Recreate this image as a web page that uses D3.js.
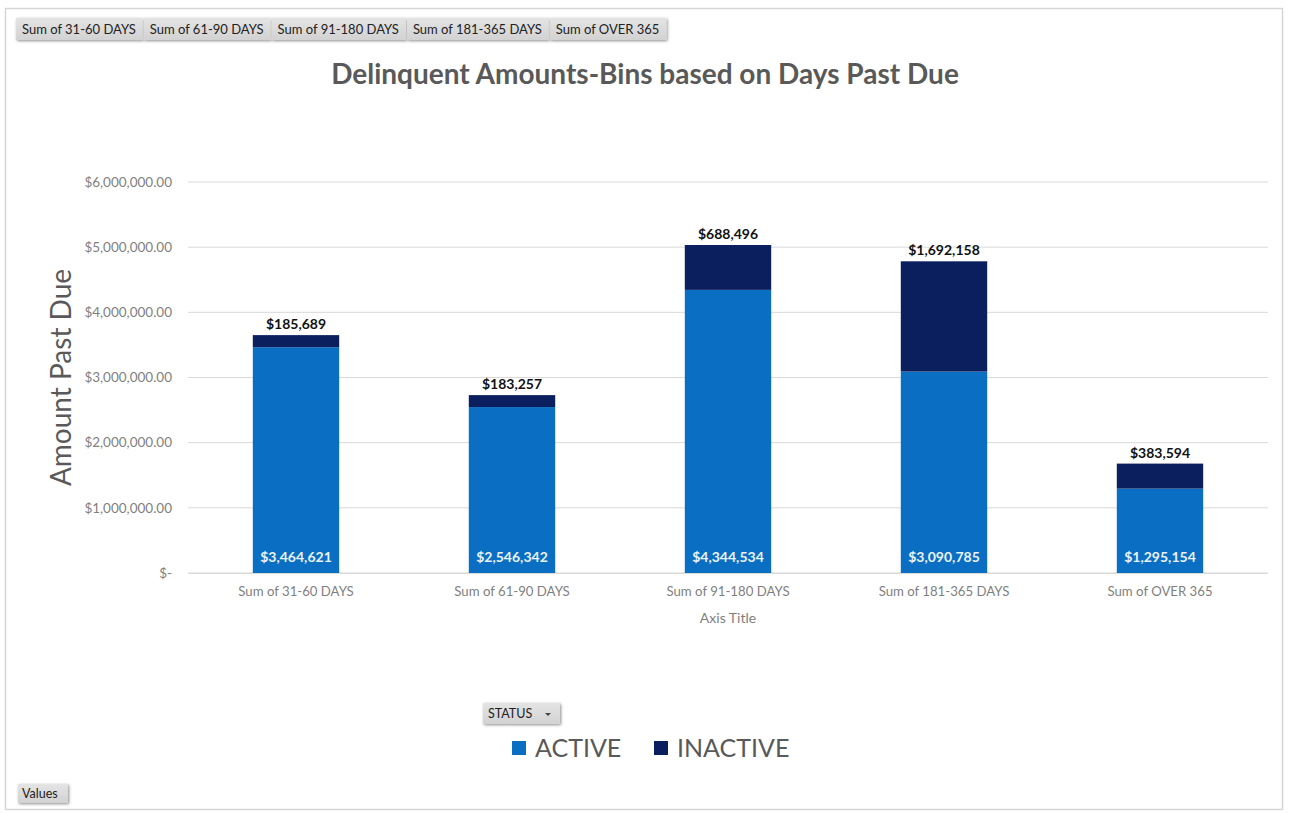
<!DOCTYPE html>
<html>
<head>
<meta charset="utf-8">
<script src="https://cdn.jsdelivr.net/npm/d3@7"></script>
<style>
  html, body { margin: 0; padding: 0; background: #ffffff; }
  svg { display: block; font-family: Lato, "Open Sans", sans-serif; }
</style>
</head>
<body>
<svg id="chart" width="1289" height="813"></svg>
<script>
// Pivot chart data: amounts past due per aging bin, split by account status
const categories = ["Sum of 31-60 DAYS", "Sum of 61-90 DAYS", "Sum of 91-180 DAYS", "Sum of 181-365 DAYS", "Sum of OVER 365"];
const activeValues = [3464621, 2546342, 4344534, 3090785, 1295154];
const inactiveValues = [185689, 183257, 688496, 1692158, 383594];
const yTickValues = [0, 1000000, 2000000, 3000000, 4000000, 5000000, 6000000];
const statusNames = ["ACTIVE", "INACTIVE"];
const fieldButtons = ["Sum of 31-60 DAYS", "Sum of 61-90 DAYS", "Sum of 91-180 DAYS", "Sum of 181-365 DAYS", "Sum of OVER 365"];

const colors = { ACTIVE: "#0a6fc2", INACTIVE: "#0b1f5e" };

const svg = d3.select("#chart");
const defs = svg.append("defs");

// soft shadow for the pivot field buttons
const sh = defs.append("filter").attr("id", "btnShadow").attr("x", "-10%").attr("y", "-40%").attr("width", "120%").attr("height", "180%");
sh.append("feGaussianBlur").attr("in", "SourceAlpha").attr("stdDeviation", 1.5).attr("result", "b");
sh.append("feOffset").attr("in", "b").attr("dx", 1).attr("dy", 1).attr("result", "o");
sh.append("feComponentTransfer").attr("in", "o").attr("result", "s")
  .append("feFuncA").attr("type", "linear").attr("slope", 0.45);
const m = sh.append("feMerge");
m.append("feMergeNode").attr("in", "s");
m.append("feMergeNode").attr("in", "SourceGraphic");

const grad = defs.append("linearGradient").attr("id", "btnFill").attr("x1", 0).attr("y1", 0).attr("x2", 0).attr("y2", 1);
grad.append("stop").attr("offset", "0%").attr("stop-color", "#e4e4e4");
grad.append("stop").attr("offset", "100%").attr("stop-color", "#d2d2d2");

// chart frame
svg.append("rect")
  .attr("x", 5.5).attr("y", 8.5).attr("width", 1277).attr("height", 801)
  .attr("fill", "#ffffff").attr("stroke", "#d6d6d6").attr("stroke-width", 1.5);

// field buttons across the top
const btnG = svg.append("g").attr("filter", "url(#btnShadow)");
const btnTextG = svg.append("g");
let bx = 16;
fieldButtons.forEach((label) => {
  const t = btnTextG.append("text")
    .attr("x", bx + 6).attr("y", 34)
    .attr("font-size", 13).attr("fill", "#222")
    .text(label);
  const w = t.node().getComputedTextLength() + 13;
  btnG.append("rect").attr("x", bx).attr("y", 18).attr("width", w).attr("height", 22)
    .attr("fill", "url(#btnFill)");
  bx += w + 1;
});

// title
svg.append("text")
  .attr("x", 645).attr("y", 84)
  .attr("text-anchor", "middle")
  .attr("font-size", 28).attr("font-weight", "bold").attr("fill", "#595959")
  .text("Delinquent Amounts-Bins based on Days Past Due");

// plot area
const plot = { left: 188, right: 1268, top: 182, bottom: 573 };

const x = d3.scaleBand()
  .domain(categories)
  .range([plot.left, plot.right])
  .paddingInner(0.6)
  .paddingOuter(0.3);

const y = d3.scaleLinear()
  .domain([0, 6000000])
  .range([plot.bottom, plot.top]);

// gridlines
svg.append("g")
  .selectAll("line")
  .data(yTickValues)
  .join("line")
  .attr("x1", plot.left).attr("x2", plot.right)
  .attr("y1", d => y(d)).attr("y2", d => y(d))
  .attr("stroke", "#d9d9d9").attr("stroke-width", 1);

// y axis labels
const yFmt = d => d === 0 ? "$-" : "$" + d3.format(",.2f")(d);
const yAxis = d3.axisLeft(y).tickValues(yTickValues).tickFormat(yFmt).tickSize(0).tickPadding(16);
svg.append("g")
  .attr("transform", `translate(${plot.left},0)`)
  .call(yAxis)
  .call(g => g.select(".domain").remove())
  .call(g => g.selectAll("text")
    .attr("font-size", 13.5).attr("fill", "#7f7f7f")
    .attr("font-family", "Lato, sans-serif"));

// y axis title
svg.append("text")
  .attr("transform", `translate(71,${(plot.top + plot.bottom) / 2}) rotate(-90)`)
  .attr("text-anchor", "middle")
  .attr("font-size", 28).attr("fill", "#595959")
  .text("Amount Past Due");

// stacked bars
const rows = categories.map((c, i) => ({ cat: c, ACTIVE: activeValues[i], INACTIVE: inactiveValues[i] }));
const stacked = d3.stack().keys(statusNames)(rows);

svg.append("g")
  .selectAll("g")
  .data(stacked)
  .join("g")
  .attr("fill", s => colors[s.key])
  .selectAll("rect")
  .data(s => s)
  .join("rect")
  .attr("x", d => x(d.data.cat))
  .attr("width", x.bandwidth())
  .attr("y", d => y(d[1]))
  .attr("height", d => y(d[0]) - y(d[1]));

// bottom axis line
svg.append("line")
  .attr("x1", plot.left).attr("x2", plot.right)
  .attr("y1", plot.bottom + 0.5).attr("y2", plot.bottom + 0.5)
  .attr("stroke", "#d9d9d9");

// data labels
const money = d => "$" + d3.format(",")(d);
const lbl = svg.append("g").attr("text-anchor", "middle").attr("font-weight", "bold").attr("font-size", 14);
rows.forEach(r => {
  const cx = x(r.cat) + x.bandwidth() / 2;
  lbl.append("text")
    .attr("x", cx).attr("y", y(r.ACTIVE + r.INACTIVE) - 6)
    .attr("fill", "#111").text(money(r.INACTIVE));
  lbl.append("text")
    .attr("x", cx).attr("y", y(0) - 11)
    .attr("fill", "#eaf2fb").text(money(r.ACTIVE));
});

// category labels
svg.append("g")
  .attr("transform", `translate(0,${plot.bottom})`)
  .call(d3.axisBottom(x).tickSize(0).tickPadding(14))
  .call(g => g.select(".domain").remove())
  .call(g => g.selectAll("text").attr("font-size", 13.2).attr("fill", "#7f7f7f")
    .attr("font-family", "Lato, sans-serif"));

// x axis title
svg.append("text")
  .attr("x", (plot.left + plot.right) / 2).attr("y", 623)
  .attr("text-anchor", "middle").attr("font-size", 14).attr("fill", "#7f7f7f")
  .text("Axis Title");

// STATUS field button
const statusG = svg.append("g");
statusG.append("rect").attr("x", 483).attr("y", 703).attr("width", 77).attr("height", 21)
  .attr("fill", "url(#btnFill)").attr("filter", "url(#btnShadow)");
statusG.append("text").attr("x", 488).attr("y", 718)
  .attr("font-size", 12.5).attr("fill", "#222")
  .text("STATUS");
statusG.append("path").attr("d", "M545,713 l6,0 l-3,3 z").attr("fill", "#444");

// legend
const legendItems = [{ name: "ACTIVE", x: 512 }, { name: "INACTIVE", x: 654 }];
const leg = svg.append("g");
legendItems.forEach(it => {
  leg.append("rect").attr("x", it.x).attr("y", 741).attr("width", 14).attr("height", 14)
    .attr("fill", colors[it.name]);
  leg.append("text").attr("x", it.x + 23).attr("y", 757)
    .attr("font-size", 25).attr("fill", "#595959").text(it.name);
});

// Values field button
svg.append("rect").attr("x", 18).attr("y", 784).attr("width", 50).attr("height", 19)
  .attr("fill", "url(#btnFill)").attr("filter", "url(#btnShadow)");
svg.append("text").attr("x", 22).attr("y", 798)
  .attr("font-size", 12.5).attr("fill", "#222")
  .text("Values");
</script>
</body>
</html>
